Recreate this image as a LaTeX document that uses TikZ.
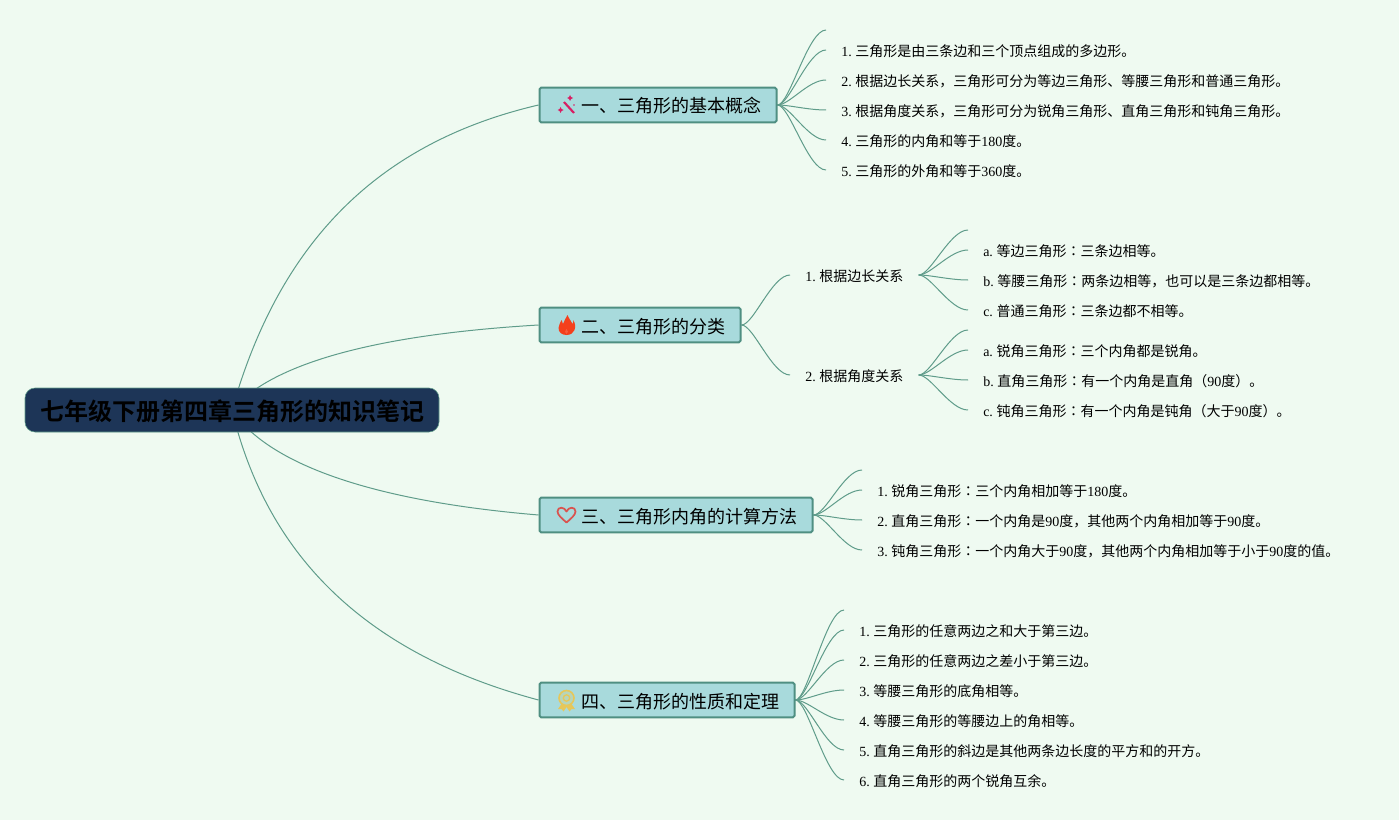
\documentclass[tikz,border=0pt]{standalone}
\usepackage{fontspec}
\setmainfont{Liberation Serif}
\newfontfamily\cjk[BoldFont={Noto Sans CJK SC Bold}]{Noto Sans CJK SC}
\newfontfamily\cjktc{Noto Sans CJK TC}
\newcommand{\colonmark}{{\cjktc ：}}
\newcommand{\iconspace}{\hspace*{20.25pt}}
\usetikzlibrary{positioning, backgrounds, calc}
\definecolor{paper}{HTML}{EFFAF1}
\definecolor{linkgreen}{HTML}{5F9C8A}
\definecolor{boxfill}{HTML}{A8DADC}
\definecolor{boxline}{HTML}{4F8F82}
\definecolor{rootfill}{HTML}{1D3557}
\definecolor{wandred}{HTML}{D81E63}
\definecolor{flamered}{HTML}{F4401C}
\definecolor{heartred}{HTML}{D9534F}
\definecolor{medalyellow}{HTML}{E6C75A}
\tikzset{
    rootbox/.style={
        rectangle,
        draw=linkgreen,
        line width=0.4pt,
        rounded corners=7.5pt,
        minimum width=310.5pt,
        minimum height=33pt,
        text height=17pt,
        text depth=1.5pt,
        inner ysep=0pt,
        fill=rootfill,
        font=\fontsize{18}{20}\selectfont\cjk\bfseries
    },
    branch/.style={
        rectangle,
        draw=boxline,
        line width=1.5pt,
        rounded corners=1.2pt,
        minimum height=26pt,
        text height=13pt,
        text depth=1pt,
        inner xsep=11.25pt,
        inner ysep=0pt,
        anchor=west,
        fill=boxfill,
        font=\fontsize{13.5}{15}\selectfont
    },
    item/.style={
        rectangle,
        inner xsep=11.25pt,
        inner ysep=0pt,
        text height=12pt,
        text depth=2pt,
        anchor=west,
        font=\fontsize{10.5}{12}\selectfont,
        execute at begin node={\spaceskip=1.9pt\relax}
    },
    link/.style={
        draw=linkgreen,
        line width=0.75pt
    },
    fan/.style={
        to path={.. controls +(12,0) and +(-18,0) .. (\tikztotarget)}
    },
    wandicon/.pic={
        \draw[color=wandred, line width=1.6pt] (-2,-3) -- (8,8);
        \fill[wandred] (4,-10) -- (5,-8) -- (7,-7) -- (5,-6) -- (4,-4) -- (3,-6) -- (1,-7) -- (3,-8) -- cycle;
        \fill[wandred] (-5.5,2) -- (-4.5,4) -- (-2.5,5) -- (-4.5,6) -- (-5.5,8) -- (-6.5,6) -- (-8.5,5) -- (-6.5,4) -- cycle;
        \fill[wandred] (8,0) circle (0.8);
    },
    flameicon/.pic={
        \fill[flamered] (1,-10) .. controls (3,-5) and (5,-4) .. (6,-1) .. controls (7,-3) and (7,-4) .. (6.5,-5)
            .. controls (9,-2) and (9,2) .. (8,5) .. controls (7,8) and (4,10) .. (0,10)
            .. controls (-5,10) and (-8,7) .. (-8,3) .. controls (-8,0) and (-6,-2) .. (-5,-5)
            .. controls (-4,-3) and (-4,-2) .. (-3.5,-1) .. controls (-2,-4) and (-1,-7) .. (1,-10) -- cycle;
        \fill[flamered!85!white] (0,4) .. controls (2,5.5) and (2,8) .. (0,9) .. controls (-2,8) and (-2,5.5) .. (0,4) -- cycle;
    },
    hearticon/.pic={
        \draw[color=heartred, line width=1.3pt, line join=round] (0,7.5) .. controls (-4,4) and (-9,0) .. (-9,-3.5)
            .. controls (-9,-8.5) and (-2,-8.5) .. (0,-3.5) .. controls (2,-8.5) and (9,-8.5) .. (9,-3.5)
            .. controls (9,0) and (4,4) .. (0,7.5) -- cycle;
    },
    medalicon/.pic={
        \fill[medalyellow] (-5,4) -- (-8.5,9) -- (-5,9) -- (-3,11.5) -- (0,7) -- (3,11.5) -- (5,9) -- (8.5,9) -- (5,4) -- cycle;
        \draw[color=medalyellow, fill=medalyellow!25!boxfill, line width=1.2pt] (0,-2) circle (7.5);
        \draw[color=medalyellow, line width=1pt] (0,-2) circle (3.2);
    }
}

\begin{document}
\begin{tikzpicture}[x=0.75pt, y=-0.75pt]
\useasboundingbox (0,0) rectangle (1399,820);

% Root
\node[rootbox] (root) at (232,410) {七年级下册第四章三角形的知识笔记};

% Branches
\node[branch] (basic) at (538.5,105) {\iconspace{\cjk 一、三角形的基本概念}};
\node[branch] (kinds) at (538.5,325) {\iconspace{\cjk 二、三角形的分类}};
\node[branch] (angles) at (538.5,515) {\iconspace{\cjk 三、三角形内角的计算方法}};
\node[branch] (props) at (538.5,700) {\iconspace{\cjk 四、三角形的性质和定理}};

% Icons
\pic at (566,105) {wandicon};
\pic at (566.5,325) {flameicon};
\pic at (566.5,515) {hearticon};
\pic at (566.5,700) {medalicon};

% Basic concepts
\coordinate (basic0) at (826,30);
\node[item] (basic1) at (826,50) {1. {\cjk 三角形是由三条边和三个顶点组成的多边形。}};
\node[item] (basic2) at (826,80) {2. {\cjk 根据边长关系，三角形可分为等边三角形、等腰三角形和普通三角形。}};
\node[item] (basic3) at (826,110) {3. {\cjk 根据角度关系，三角形可分为锐角三角形、直角三角形和钝角三角形。}};
\node[item] (basic4) at (826,140) {4. {\cjk 三角形的内角和等于}180{\cjk 度。}};
\node[item] (basic5) at (826,170) {5. {\cjk 三角形的外角和等于}360{\cjk 度。}};

% Classification
\node[item] (side) at (790,275) {1. {\cjk 根据边长关系}};
\node[item] (corner) at (790,375) {2. {\cjk 根据角度关系}};

\coordinate (side0) at (968,230);
\node[item] (side1) at (968,250) {a. {\cjk 等边三角形\colonmark 三条边相等。}};
\node[item] (side2) at (968,280) {b. {\cjk 等腰三角形\colonmark 两条边相等，也可以是三条边都相等。}};
\node[item] (side3) at (968,310) {c. {\cjk 普通三角形\colonmark 三条边都不相等。}};

\coordinate (corner0) at (968,330);
\node[item] (corner1) at (968,350) {a. {\cjk 锐角三角形\colonmark 三个内角都是锐角。}};
\node[item] (corner2) at (968,380) {b. {\cjk 直角三角形\colonmark 有一个内角是直角（}90{\cjk 度）。}};
\node[item] (corner3) at (968,410) {c. {\cjk 钝角三角形\colonmark 有一个内角是钝角（大于}90{\cjk 度）。}};

% Angle sums
\coordinate (angles0) at (862,470);
\node[item] (angles1) at (862,490) {1. {\cjk 锐角三角形\colonmark 三个内角相加等于}180{\cjk 度。}};
\node[item] (angles2) at (862,520) {2. {\cjk 直角三角形\colonmark 一个内角是}90{\cjk 度，其他两个内角相加等于}90{\cjk 度。}};
\node[item] (angles3) at (862,550) {3. {\cjk 钝角三角形\colonmark 一个内角大于}90{\cjk 度，其他两个内角相加等于小于}90{\cjk 度的值。}};

% Properties
\coordinate (props0) at (844,610);
\node[item] (props1) at (844,630) {1. {\cjk 三角形的任意两边之和大于第三边。}};
\node[item] (props2) at (844,660) {2. {\cjk 三角形的任意两边之差小于第三边。}};
\node[item] (props3) at (844,690) {3. {\cjk 等腰三角形的底角相等。}};
\node[item] (props4) at (844,720) {4. {\cjk 等腰三角形的等腰边上的角相等。}};
\node[item] (props5) at (844,750) {5. {\cjk 直角三角形的斜边是其他两条边长度的平方和的开方。}};
\node[item] (props6) at (844,780) {6. {\cjk 直角三角形的两个锐角互余。}};

\begin{scope}[on background layer]
\fill[paper] (0,0) rectangle (1399,820);

% Root connections
\draw[link] (root.center) .. controls (280,240) and (380,142) .. (basic.west);
\draw[link] (root.center) .. controls (270,365) and (370,335) .. (kinds.west);
\draw[link] (root.center) .. controls (265,460) and (360,500) .. (angles.west);
\draw[link] (root.center) .. controls (268,560) and (370,655) .. (props.west);

% Basic concepts
\draw[link] (basic.east) to[fan] (basic0);
\draw[link] (basic.east) to[fan] (basic1.west);
\draw[link] (basic.east) to[fan] (basic2.west);
\draw[link] (basic.east) to[fan] (basic3.west);
\draw[link] (basic.east) to[fan] (basic4.west);
\draw[link] (basic.east) to[fan] (basic5.west);

% Classification
\draw[link] (kinds.east) to[fan] (side.west);
\draw[link] (kinds.east) to[fan] (corner.west);
\draw[link] (side.east) to[fan] (side0);
\draw[link] (side.east) to[fan] (side1.west);
\draw[link] (side.east) to[fan] (side2.west);
\draw[link] (side.east) to[fan] (side3.west);
\draw[link] (corner.east) to[fan] (corner0);
\draw[link] (corner.east) to[fan] (corner1.west);
\draw[link] (corner.east) to[fan] (corner2.west);
\draw[link] (corner.east) to[fan] (corner3.west);

% Angle sums
\draw[link] (angles.east) to[fan] (angles0);
\draw[link] (angles.east) to[fan] (angles1.west);
\draw[link] (angles.east) to[fan] (angles2.west);
\draw[link] (angles.east) to[fan] (angles3.west);

% Properties
\draw[link] (props.east) to[fan] (props0);
\draw[link] (props.east) to[fan] (props1.west);
\draw[link] (props.east) to[fan] (props2.west);
\draw[link] (props.east) to[fan] (props3.west);
\draw[link] (props.east) to[fan] (props4.west);
\draw[link] (props.east) to[fan] (props5.west);
\draw[link] (props.east) to[fan] (props6.west);
\end{scope}

\end{tikzpicture}
\end{document}
